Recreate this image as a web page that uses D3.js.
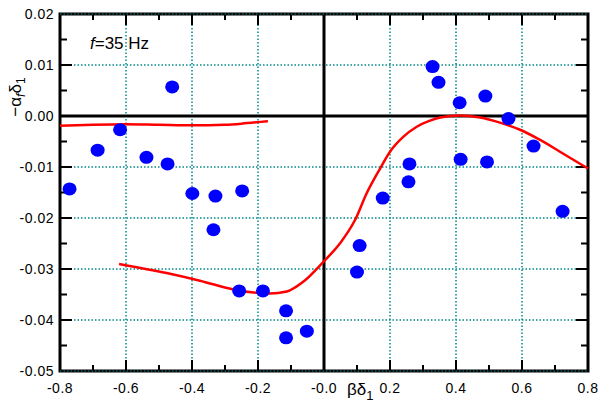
<!DOCTYPE html>
<html lang="en">
<head>
    <meta charset="UTF-8">
    <title>f=35 Hz</title>
    <script src="https://cdnjs.cloudflare.com/ajax/libs/d3/7.8.5/d3.min.js"></script>
    <style>
        body {
            margin: 0;
            background: white;
            font-family: "Liberation Sans", Arial, sans-serif;
        }
    </style>
</head>
<body>
    <div id="chart"></div>

    <script>
        // Measured points
        const pointX = [0.329, 0.347, 0.411, 0.489, 0.559, 0.635, 0.259, 0.256, 0.414, 0.494, 0.178, 0.723,
                        -0.460, -0.618, -0.686, -0.771, -0.538, -0.474, -0.399, -0.329, -0.248, -0.335,
                        -0.257, -0.185, -0.115, -0.115, -0.052, 0.108, 0.100];
        const pointY = [0.0097, 0.0066, 0.0026, 0.0039, -0.0005, -0.0059, -0.0094, -0.0129, -0.0085, -0.0090, -0.0161, -0.0187,
                        0.0057, -0.0027, -0.0067, -0.0143, -0.0081, -0.0094, -0.0152, -0.0157, -0.0147, -0.0223,
                        -0.0343, -0.0343, -0.0382, -0.0435, -0.0422, -0.0254, -0.0306];

        // Fitted curves
        const upperCurveX = [-0.8, -0.7, -0.6, -0.5, -0.4, -0.3, -0.25, -0.2, -0.17];
        const upperCurveY = [-0.0019, -0.0017, -0.0016, -0.0017, -0.0018, -0.0017, -0.0015, -0.0012, -0.0010];

        const lowerCurveX = [-0.621, -0.477, -0.376, -0.275, -0.199, -0.164, -0.113, -0.063, -0.002, 0.048, 0.094,
                             0.129, 0.170, 0.2, 0.240, 0.281, 0.321, 0.352, 0.412, 0.473, 0.533, 0.594, 0.655, 0.715, 0.80];
        const lowerCurveY = [-0.0290, -0.0308, -0.0323, -0.0340, -0.0347, -0.0348, -0.0344, -0.0325, -0.0286, -0.0250, -0.0204,
                             -0.0152, -0.0103, -0.0070, -0.0041, -0.0021, -0.0009, -0.0003, 0.0001, -0.0003, -0.0013, -0.0027, -0.0047, -0.0070, -0.0103];

        const xTicks = [-0.8, -0.6, -0.4, -0.2, 0.0, 0.2, 0.4, 0.6, 0.8];
        const xTickLabels = ["-0.8", "-0.6", "-0.4", "-0.2", "-0.0", "0.2", "0.4", "0.6", "0.8"];
        const yTicks = [0.02, 0.01, 0.0, -0.01, -0.02, -0.03, -0.04, -0.05];
        const yTickLabels = ["0.02", "0.01", "0.00", "-0.01", "-0.02", "-0.03", "-0.04", "-0.05"];

        const width = 600;
        const height = 405;
        const plotLeft = 60, plotRight = 588, plotTop = 14, plotBottom = 371;
        const gridColor = "#008b8b";

        const x = d3.scaleLinear().domain([-0.8, 0.8]).range([plotLeft, plotRight]);
        const y = d3.scaleLinear().domain([-0.05, 0.02]).range([plotBottom, plotTop]);

        const svg = d3.select("#chart")
            .append("svg")
            .attr("width", width)
            .attr("height", height);

        // vertical grid
        svg.append("g")
            .selectAll("line")
            .data(xTicks.filter(d => d > -0.8 && d < 0.8 && d !== 0))
            .join("line")
            .attr("x1", d => x(d)).attr("x2", d => x(d))
            .attr("y1", plotTop).attr("y2", plotBottom)
            .attr("stroke", gridColor)
            .attr("stroke-width", 1.5)
            .attr("stroke-dasharray", "1.5,2");

        // horizontal grid
        svg.append("g")
            .selectAll("line")
            .data(yTicks.filter(d => d > -0.05 && d < 0.02 && d !== 0))
            .join("line")
            .attr("x1", plotLeft).attr("x2", plotRight)
            .attr("y1", d => y(d)).attr("y2", d => y(d))
            .attr("stroke", gridColor)
            .attr("stroke-width", 1.5)
            .attr("stroke-dasharray", "1.5,2");

        // zero lines
        svg.append("line")
            .attr("x1", x(0)).attr("x2", x(0))
            .attr("y1", plotTop).attr("y2", plotBottom)
            .attr("stroke", "black").attr("stroke-width", 3);
        svg.append("line")
            .attr("x1", plotLeft).attr("x2", plotRight)
            .attr("y1", y(0)).attr("y2", y(0))
            .attr("stroke", "black").attr("stroke-width", 3);

        // inward ticks on all four sides
        const xMinor = d3.range(-7, 8).map(i => i / 10);
        const yMinor = d3.range(-9, 4).map(i => i * 0.005);
        const isMajorX = d => Math.abs(Math.round(d * 10)) % 2 === 0;
        const isMajorY = d => Math.abs(Math.round(d * 200)) % 2 === 0;

        const ticks = svg.append("g").attr("stroke", "black").attr("stroke-width", 2);
        xMinor.forEach(d => {
            const len = isMajorX(d) ? 11 : 6;
            ticks.append("line").attr("x1", x(d)).attr("x2", x(d)).attr("y1", plotBottom).attr("y2", plotBottom - len);
            ticks.append("line").attr("x1", x(d)).attr("x2", x(d)).attr("y1", plotTop).attr("y2", plotTop + len);
        });
        yMinor.forEach(d => {
            const len = isMajorY(d) ? 12 : 7;
            ticks.append("line").attr("x1", plotLeft).attr("x2", plotLeft + len).attr("y1", y(d)).attr("y2", y(d));
            ticks.append("line").attr("x1", plotRight).attr("x2", plotRight - len).attr("y1", y(d)).attr("y2", y(d));
        });

        // frame
        svg.append("rect")
            .attr("x", plotLeft).attr("y", plotTop)
            .attr("width", plotRight - plotLeft).attr("height", plotBottom - plotTop)
            .attr("fill", "none")
            .attr("stroke", "black")
            .attr("stroke-width", 3);

        // dotted grid on top and bottom edges
        [plotTop, plotBottom].forEach(py => {
            svg.append("line")
                .attr("x1", plotLeft).attr("x2", plotRight)
                .attr("y1", py).attr("y2", py)
                .attr("stroke", gridColor)
                .attr("stroke-width", 1)
                .attr("stroke-dasharray", "1.5,2");
        });

        // curves
        const line = d3.line()
            .x(d => x(d[0]))
            .y(d => y(d[1]))
            .curve(d3.curveMonotoneX);

        svg.append("path")
            .datum(d3.zip(upperCurveX, upperCurveY))
            .attr("d", line)
            .attr("fill", "none")
            .attr("stroke", "#ff0000")
            .attr("stroke-width", 2.5);

        svg.append("path")
            .datum(d3.zip(lowerCurveX, lowerCurveY))
            .attr("d", line)
            .attr("fill", "none")
            .attr("stroke", "#ff0000")
            .attr("stroke-width", 2.5);

        // points
        svg.append("g")
            .selectAll("ellipse")
            .data(d3.zip(pointX, pointY))
            .join("ellipse")
            .attr("cx", d => x(d[0]))
            .attr("cy", d => y(d[1]))
            .attr("rx", 7)
            .attr("ry", 6.5)
            .attr("fill", "#0000ff");

        // tick labels
        svg.append("g")
            .selectAll("text")
            .data(xTicks)
            .join("text")
            .attr("x", d => x(d))
            .attr("y", 393)
            .attr("text-anchor", "middle")
            .style("font-size", "14px")
            .style("letter-spacing", "0.5px")
            .text((d, i) => xTickLabels[i]);

        svg.append("g")
            .selectAll("text")
            .data(yTicks)
            .join("text")
            .attr("x", 54)
            .attr("y", d => y(d) + 5)
            .attr("text-anchor", "end")
            .style("font-size", "14px")
            .style("letter-spacing", "0.5px")
            .text((d, i) => yTickLabels[i]);

        // axis titles
        const xTitle = svg.append("text")
            .attr("x", 347)
            .attr("y", 395)
            .style("font-size", "17px");
        xTitle.append("tspan").text("\u03b2\u03b4");
        xTitle.append("tspan").attr("dy", 5).style("font-size", "13px").text("1");

        const yTitle = svg.append("text")
            .attr("transform", "translate(21,97) rotate(-90)")
            .attr("text-anchor", "middle")
            .style("font-size", "17px");
        yTitle.append("tspan").text("\u2212\u03b1");
        yTitle.append("tspan").attr("dy", 4).style("font-size", "12px").style("font-style", "italic").text("f");
        yTitle.append("tspan").attr("dy", -4).text("\u03b4");
        yTitle.append("tspan").attr("dy", 4).style("font-size", "12px").text("1");

        // annotation
        const note = svg.append("text")
            .attr("x", 90)
            .attr("y", 49)
            .style("font-size", "17px");
        note.append("tspan").style("font-style", "italic").text("f");
        note.append("tspan").text("=35 Hz");
    </script>
</body>
</html>
